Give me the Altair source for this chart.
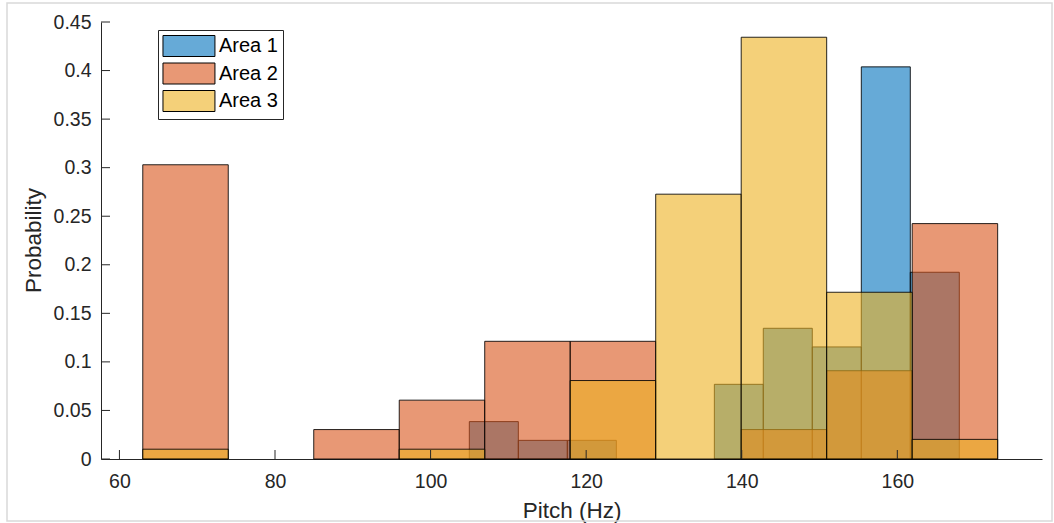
import altair as alt
import pandas as pd

# ---- data ----
areas = ["Area 1", "Area 2", "Area 3"]

edges_area1 = [104.98, 111.28, 117.58, 123.88, 130.18, 136.48, 142.77, 149.07, 155.37, 161.67, 167.97]
prob_area1 = [0.0385, 0.0192, 0.0192, 0.0, 0.0, 0.0769, 0.1346, 0.1154, 0.4038, 0.1923]

edges_area23 = [63.0, 73.99, 84.98, 95.97, 106.96, 117.95, 128.94, 139.93, 150.92, 161.91, 172.9]
prob_area2 = [0.3030, 0.0, 0.0303, 0.0606, 0.1212, 0.1212, 0.0, 0.0303, 0.0909, 0.2424]
prob_area3 = [0.0101, 0.0, 0.0, 0.0101, 0.0, 0.0808, 0.2727, 0.4343, 0.1717, 0.0202]

x_ticks = [60, 80, 100, 120, 140, 160]
y_ticks = [0, 0.05, 0.1, 0.15, 0.2, 0.25, 0.3, 0.35, 0.4, 0.45]

colors = ["#0072BD", "#D95319", "#EDB120"]
legend_colors = ["#66AAD7", "#E89875", "#F4D079"]   # same colours at 60% over white

rows = []
for name, edges, probs in [("Area 1", edges_area1, prob_area1),
                           ("Area 2", edges_area23, prob_area2),
                           ("Area 3", edges_area23, prob_area3)]:
    for i, p in enumerate(probs):
        if p > 0:
            rows.append({"area": name, "x0": edges[i], "x1": edges[i + 1], "p": p, "base": 0.0})
bars_df = pd.DataFrame(rows)

W, H = 941, 437
FONT = "Liberation Sans"
TXT = "#262626"

xscale = alt.Scale(domain=[57.63, 178.6], nice=False, zero=False)
yscale = alt.Scale(domain=[0, 0.45], nice=False)

bars = alt.Chart(bars_df).mark_rect(
    fillOpacity=0.6, stroke="black", strokeWidth=1, strokeOpacity=0.85
).encode(
    x=alt.X("x0:Q", scale=xscale, axis=alt.Axis(
        title="Pitch (Hz)", values=x_ticks, grid=False, ticks=False, tickSize=0,
        labelFont=FONT, labelFontSize=19.5, labelColor=TXT, labelPadding=13,
        domainColor=TXT, domainWidth=1,
        titleFont=FONT, titleFontSize=22.5, titleFontWeight="normal", titleColor=TXT,
        titleX=W / 2, titleY=58, titleBaseline="alphabetic", titleAlign="center")),
    x2="x1:Q",
    y=alt.Y("p:Q", scale=yscale, axis=alt.Axis(
        title="Probability", values=y_ticks, format="~g", grid=False, ticks=False, tickSize=0,
        labelFont=FONT, labelFontSize=19.5, labelColor=TXT, labelPadding=10,
        domainColor=TXT, domainWidth=1,
        titleFont=FONT, titleFontSize=22.5, titleFontWeight="normal", titleColor=TXT,
        titleX=-61, titleY=H / 2 - 0.5, titleAngle=270, titleBaseline="alphabetic", titleAlign="center")),
    y2="base:Q",
    color=alt.Color("area:N", scale=alt.Scale(domain=areas, range=colors), legend=None),
    order=alt.Order("area:N"),
)

# invisible layer that only carries the legend
legend_layer = alt.Chart(bars_df).mark_rect(opacity=0).encode(
    x=alt.X("x0:Q", scale=xscale),
    x2="x1:Q",
    y=alt.Y("p:Q", scale=yscale),
    y2="base:Q",
    color=alt.Color("area:N", scale=alt.Scale(domain=areas, range=legend_colors), legend=alt.Legend(
        title=None, orient="none", legendX=57, legendY=8, padding=5,
        strokeColor=TXT, fillColor="white", rowPadding=1.5,
        symbolType="M-1.05,-1H3.9V1H-1.05Z", symbolSize=441,
        symbolStrokeColor="black", symbolStrokeWidth=1, symbolOpacity=1,
        labelFont=FONT, labelFontSize=20, labelColor="black", labelOffset=34)),
)

yt_df = pd.DataFrame({"v": y_ticks})
xt_df = pd.DataFrame({"v": x_ticks})

yticks = alt.Chart(yt_df).mark_rule(color=TXT, strokeWidth=1).encode(
    y=alt.Y("v:Q", scale=yscale), x=alt.value(0), x2=alt.value(9))
xticks = alt.Chart(xt_df).mark_rule(color=TXT, strokeWidth=1).encode(
    x=alt.X("v:Q", scale=xscale), y=alt.value(H), y2=alt.value(H - 9))

frame = alt.Chart(pd.DataFrame({"a": [0]})).mark_rect(
    fill="white", fillOpacity=0, stroke="#d9d9d9", strokeWidth=1.5, clip=False
).encode(x=alt.value(-94), x2=alt.value(951), y=alt.value(-19), y2=alt.value(499))

chart = alt.layer(frame, bars, legend_layer, yticks, xticks).resolve_scale(
    color="independent"
).resolve_legend(color="independent").properties(
    width=W, height=H,
    autosize=alt.AutoSizeParams(type="none"),
    padding={"left": 101, "top": 22, "right": 12, "bottom": 64},
    background="white",
).configure_view(stroke=None)

chart.save("out.html", embed_options={"renderer": "svg", "actions": False})
